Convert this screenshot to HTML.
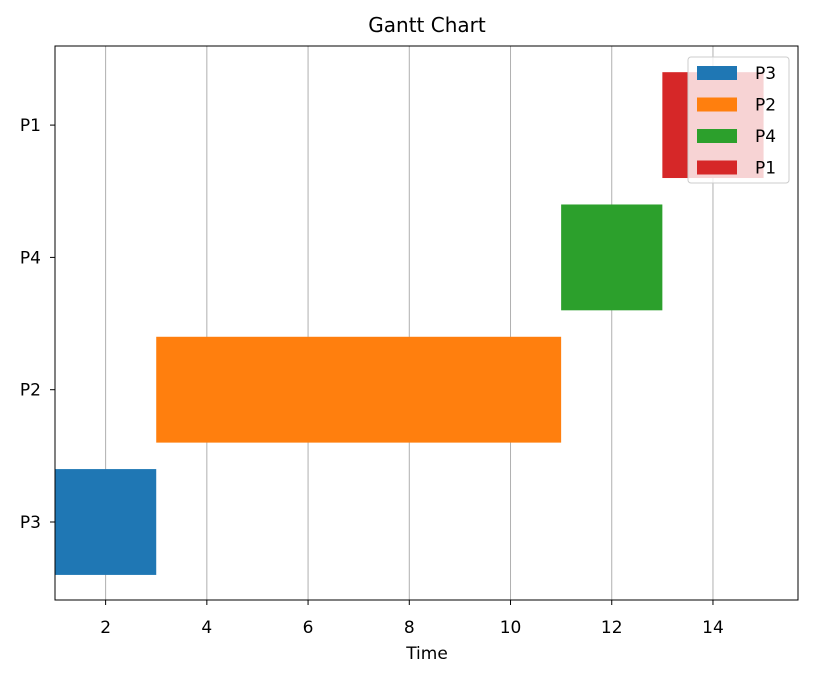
<!DOCTYPE html>
<html><head><meta charset="utf-8"><style>
body{margin:0;background:#fff;}
svg text{font-family:"DejaVu Sans","Liberation Sans",sans-serif;fill:#000;}
</style></head><body>
<svg id="chart" width="814" height="678" xmlns="http://www.w3.org/2000/svg">
<rect width="814" height="678" fill="#fff"/>
<text x="427" y="32" font-size="20" text-anchor="middle">Gantt Chart</text>
<text x="427" y="659" font-size="17" text-anchor="middle">Time</text>
<g id="grid"></g><g id="bars"></g><g id="axes"></g><g id="legend"></g>
</svg>
<script>
const tasks=["P3","P2","P4","P1"];
const starts=[1,3,11,13];
const ends=[3,11,13,15];
const colors=["#1f77b4","#ff7f0e","#2ca02c","#d62728"];
const xTicks=[2,4,6,8,10,12,14];
const L=55,R=798,T=46,B=600,xmin=1,xmax=15.68;
const NS="http://www.w3.org/2000/svg";
const xs=v=>L+(v-xmin)/(xmax-xmin)*(R-L);
const ys=i=>522-i*132.3;
function mk(tag,attrs,parent){const e=document.createElementNS(NS,tag);for(const k in attrs)e.setAttribute(k,attrs[k]);document.getElementById(parent).appendChild(e);return e;}
xTicks.forEach(t=>{
 const l=mk("line",{x1:xs(t),x2:xs(t),y1:T,y2:B,stroke:"#b0b0b0","stroke-width":1},"grid");
 
 
 mk("line",{x1:xs(t),x2:xs(t),y1:B,y2:B+5,stroke:"#000"},"axes");
 const tx=mk("text",{x:xs(t),y:B+33,"font-size":17,"text-anchor":"middle"},"axes");tx.textContent=t;
 
 
});
tasks.forEach((n,i)=>{
 const h=0.8*132.3;
 const r=mk("rect",{x:xs(starts[i]),y:ys(i)-h/2,width:xs(ends[i])-xs(starts[i]),height:h,fill:colors[i]},"bars");
 
 
 mk("line",{x1:L-5,x2:L,y1:ys(i),y2:ys(i),stroke:"#000"},"axes");
 const tx=mk("text",{x:L-14,y:ys(i)+6,"font-size":17,"text-anchor":"end"},"axes");tx.textContent=n;
 
 
});
const fr=mk("rect",{x:L,y:T,width:R-L,height:B-T,fill:"none",stroke:"#000","stroke-width":1},"axes");


const lb=mk("rect",{x:688,y:57,width:101,height:126,rx:3,fill:"#fff","fill-opacity":0.8,stroke:"#ccc"},"legend");


tasks.forEach((n,i)=>{
 const y=66+i*31.5;
 const s=mk("rect",{x:697,y:y,width:40,height:14,fill:colors[i]},"legend");
 
 
 const t=mk("text",{x:755,y:y+13,"font-size":17},"legend");t.textContent=n;
 
 
});
</script>
</body></html>
